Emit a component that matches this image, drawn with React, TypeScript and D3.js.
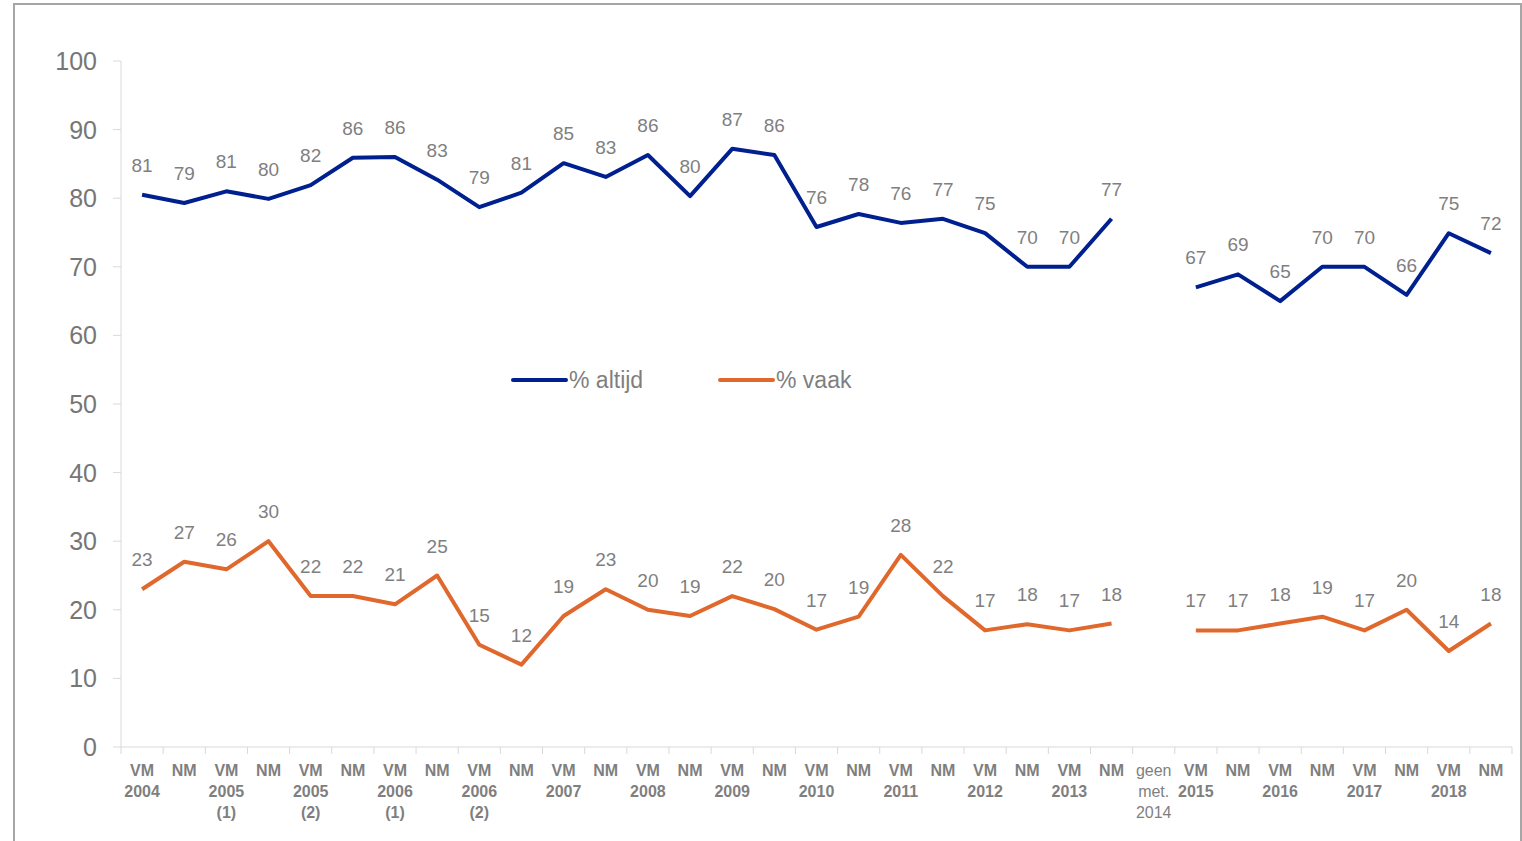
import React, { useEffect, useRef } from 'react'
import * as d3 from 'd3'

// x-axis categories (lines of each label separated by |)
const categories = [
    'VM|2004', 'NM', 'VM|2005|(1)', 'NM', 'VM|2005|(2)', 'NM', 'VM|2006|(1)', 'NM',
    'VM|2006|(2)', 'NM', 'VM|2007', 'NM', 'VM|2008', 'NM', 'VM|2009', 'NM',
    'VM|2010', 'NM', 'VM|2011', 'NM', 'VM|2012', 'NM', 'VM|2013', 'NM',
    'geen|met.|2014', 'VM|2015', 'NM', 'VM|2016', 'NM', 'VM|2017', 'NM', 'VM|2018', 'NM',
]

const altijd: (number | null)[] = [
    80.5, 79.3, 81.0, 79.9, 81.9, 85.9, 86.0, 82.7, 78.7, 80.8, 85.1, 83.1, 86.3, 80.3, 87.2, 86.3,
    75.8, 77.7, 76.4, 77.0, 74.9, 70.0, 70.0, 77.0, null, 67.0, 68.9, 65.0, 70.0, 70.0, 65.9, 74.9, 72.0,
]

const vaak: (number | null)[] = [
    23, 27, 25.9, 30, 22, 22, 20.8, 25, 14.9, 12, 19.1, 23, 20, 19.1, 22, 20.1,
    17.1, 19, 28, 22, 17, 17.9, 17, 18, null, 17, 17, 18, 19, 17, 20, 14, 18,
]

const yTicks = [0, 10, 20, 30, 40, 50, 60, 70, 80, 90, 100]

const seriesNames = ['% altijd', '% vaak']
const seriesColors = ['#00208f', '#e0682c']

const App = () => {
    const ref = useRef<SVGSVGElement>(null)

    useEffect(() => {
        draw()
    })

    const draw = () => {
        const svg = d3.select(ref.current)
        svg.selectAll('*').remove()

        const left = 121
        const right = 1512
        const top = 61
        const bottom = 747

        // frame
        svg.append('rect')
            .attr('x', 14).attr('y', 4)
            .attr('width', 1507).attr('height', 860)
            .attr('fill', 'white')
            .attr('stroke', '#a6a6a6')
            .attr('stroke-width', 2)

        const x = d3.scaleBand().domain(categories.map((d, i) => String(i))).range([left, right])
        const y = d3.scaleLinear().domain([0, 100]).range([bottom, top])
        const cx = (i: number) => (x(String(i)) || 0) + x.bandwidth() / 2

        // y axis
        const yAxis = svg.append('g')
        yAxis.append('line')
            .attr('x1', left).attr('x2', left)
            .attr('y1', y(100)).attr('y2', y(0))
            .attr('stroke', '#d9d9d9')
        yAxis.selectAll('.ytick')
            .data(yTicks)
            .enter()
            .append('line')
            .attr('x1', left - 8).attr('x2', left)
            .attr('y1', (d) => y(d)).attr('y2', (d) => y(d))
            .attr('stroke', '#d9d9d9')
        yAxis.selectAll('.ylabel')
            .data(yTicks)
            .enter()
            .append('text')
            .attr('x', 97)
            .attr('y', (d) => y(d))
            .attr('dy', '0.36em')
            .attr('text-anchor', 'end')
            .attr('font-family', 'Liberation Sans, Arial, sans-serif')
            .attr('font-size', 25)
            .attr('fill', '#767676')
            .text((d) => d)

        // x axis
        const xAxis = svg.append('g')
        xAxis.append('line')
            .attr('x1', left).attr('x2', right)
            .attr('y1', bottom).attr('y2', bottom)
            .attr('stroke', '#d9d9d9')
        xAxis.selectAll('.xtick')
            .data(d3.range(categories.length + 1))
            .enter()
            .append('line')
            .attr('x1', (d) => left + d * x.step())
            .attr('x2', (d) => left + d * x.step())
            .attr('y1', bottom).attr('y2', bottom + 7)
            .attr('stroke', '#d9d9d9')
        const xl = xAxis.selectAll('.xlabel')
            .data(categories)
            .enter()
            .append('text')
            .attr('text-anchor', 'middle')
            .attr('font-family', 'Liberation Sans Narrow, Arial Narrow, Liberation Sans, sans-serif')
            .attr('font-size', 16)
            .attr('font-weight', (d) => (d.startsWith('geen') ? 'normal' : 'bold'))
            .attr('fill', '#7f7f7f')
            .attr('transform', 'scale(1,1)')
        xl.each(function (d, i) {
            const t = d3.select(this)
            d.split('|').forEach((line, j) => {
                t.append('tspan')
                    .attr('x', cx(i))
                    .attr('y', 776 + j * 21)
                    .text(line)
            })
        })

        // lines
        const series = [altijd, vaak]
        const line = d3.line<number | null>()
            .defined((d) => d !== null)
            .x((d, i) => cx(i))
            .y((d) => y(d as number))

        series.forEach((s, k) => {
            svg.append('path')
                .datum(s)
                .attr('fill', 'none')
                .attr('stroke', seriesColors[k])
                .attr('stroke-width', 4)
                .attr('stroke-linejoin', 'round')
                .attr('d', line)

            // keep the category index with each value so gaps don't shift labels
            const points = s
                .map((v, i) => ({ v, i }))
                .filter((p) => p.v !== null) as { v: number; i: number }[]

            svg.selectAll('.lbl' + k)
                .data(points)
                .enter()
                .append('text')
                .attr('x', (p) => cx(p.i))
                .attr('y', (p) => y(p.v) - 23)
                .attr('text-anchor', 'middle')
                .attr('font-family', 'Liberation Sans, Arial, sans-serif')
                .attr('font-size', 19)
                .attr('fill', '#7f7f7f')
                .text((p) => d3.format('.0f')(p.v))
        })

        // legend
        const legendX = [513, 720]
        seriesNames.forEach((name, k) => {
            const g = svg.append('g').attr('transform', `translate(${legendX[k]},380)`)
            g.append('line')
                .attr('x1', 0).attr('x2', 53)
                .attr('stroke', seriesColors[k])
                .attr('stroke-width', 4)
                .attr('stroke-linecap', 'round')
            g.append('text')
                .attr('x', 56)
                .attr('dy', '0.36em')
                .attr('font-family', 'Liberation Sans, Arial, sans-serif')
                .attr('font-size', 23)
                .attr('fill', '#7f7f7f')
                .text(name)
        })
    }

    return (
        <svg
            ref={ref}
            width={1522}
            height={841}
            style={{ position: 'absolute', left: 0, top: 0 }}
        />
    )
}

export default App
